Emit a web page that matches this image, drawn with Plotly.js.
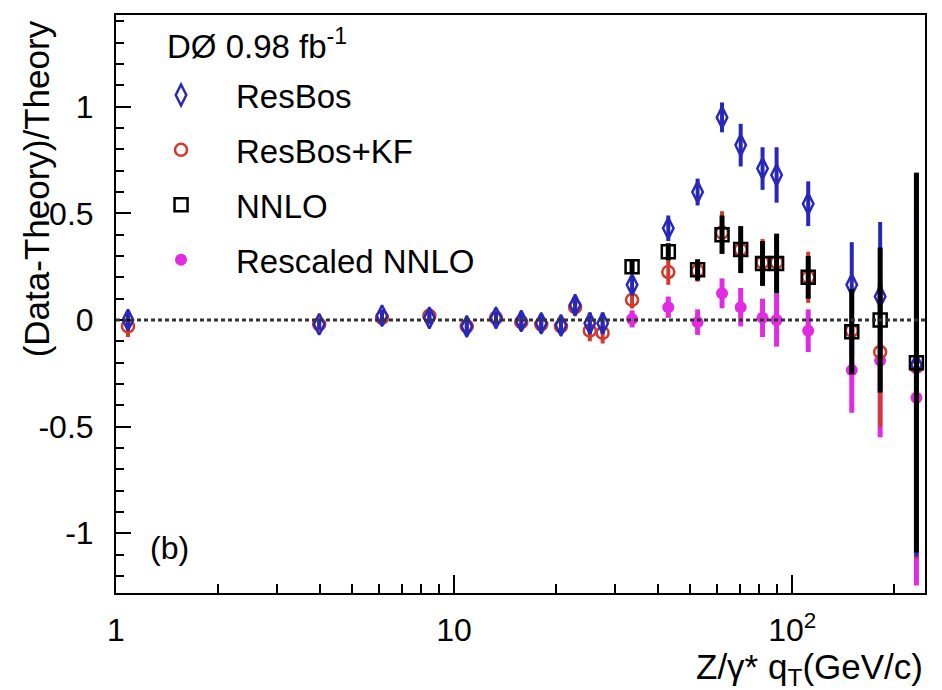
<!DOCTYPE html>
<html>
<head>
<meta charset="utf-8">
<script src="https://cdn.plot.ly/plotly-3.0.1.min.js"></script>
<style>html,body{margin:0;padding:0;background:#fff;}</style>
</head>
<body>
<div id="chart" style="width:942px;height:690px;"></div>
<script>
// Bin centres (GeV/c)
var qt = [1.085, 3.99, 6.12, 8.45, 10.9, 13.3, 15.8, 18.1, 20.7, 22.8, 25.2, 27.5, 33.6, 43.0, 52.5, 62.0, 70.4, 81.7, 89.9, 111.5, 150, 182, 233];
var qtHigh = [33.6, 43.0, 52.5, 62.0, 70.4, 81.7, 89.9, 111.5, 150, 182, 233];

var resbos    = [0.0, -0.02, 0.02, 0.01, -0.03, 0.01, -0.005, -0.015, -0.025, 0.07, -0.015, -0.015, 0.165, 0.43, 0.60, 0.95, 0.82, 0.71, 0.68, 0.545, 0.165, 0.11, -0.21];
var resbosErr = [0.045, 0.025, 0.03, 0.03, 0.035, 0.03, 0.04, 0.04, 0.04, 0.04, 0.05, 0.05, 0.04, 0.06, 0.063, 0.07, 0.1, 0.1, 0.13, 0.105, 0.2, 0.35, 0.9];

var resbosKF    = [-0.03, -0.02, 0.01, 0.02, -0.03, 0.01, -0.01, -0.02, -0.03, 0.06, -0.05, -0.06, 0.094, 0.225, 0.23, 0.41, 0.33, 0.27, 0.27, 0.2, -0.05, -0.15, -0.22];
var resbosKFErr = [0.05, 0.03, 0.03, 0.03, 0.035, 0.03, 0.04, 0.04, 0.04, 0.04, 0.05, 0.05, 0.04, 0.06, 0.05, 0.1, 0.11, 0.11, 0.13, 0.12, 0.2, 0.35, 0.9];

var nnlo    = [0.25, 0.32, 0.235, 0.40, 0.33, 0.265, 0.265, 0.20, -0.055, 0.0, -0.2];
var nnloErr = [0.03, 0.04, 0.05, 0.09, 0.11, 0.105, 0.14, 0.1, 0.2, 0.34, 0.89];

var rescaled    = [0.005, 0.06, -0.01, 0.125, 0.06, 0.01, 0.0, -0.05, -0.235, -0.19, -0.365];
var rescaledErr = [0.04, 0.05, 0.06, 0.07, 0.09, 0.09, 0.125, 0.1, 0.2, 0.36, 0.88];

var yTickVals = [-1, -0.5, 0, 0.5, 1];
var yTickText = ['-1', '-0.5', '0', '0.5', '1'];
var xTickVals = [1, 10, 100];
var xTickText = ['1', '10', '10<sup>2</sup>'];
var xMinorVals = [2,3,4,5,6,7,8,9,20,30,40,50,60,70,80,90,200];

var FONT = 'Liberation Sans, Arial, Helvetica, sans-serif';
var BLUE = '#2828b8', RED = '#d23a2e', BLACK = '#000000', MAG = '#e22ae2';

function errs(arr, color, th) {
  return {type: 'data', array: arr, visible: true, color: color, thickness: th, width: 0};
}

var traces = [
  {x: qtHigh, y: rescaled, name: 'Rescaled NNLO', mode: 'markers', type: 'scatter',
   legendrank: 4, legendgroup: 'd',
   marker: {symbol: 'circle', size: 12, color: MAG},
   error_y: errs(rescaledErr, MAG, 5)},
  {x: qt, y: resbosKF, name: 'ResBos+KF', mode: 'markers', type: 'scatter',
   legendrank: 2, legendgroup: 'b',
   marker: {symbol: 'circle-open', size: 12, color: RED, line: {width: 2.5}},
   error_y: errs(resbosKFErr, RED, 4)},
  {x: qt, y: resbos, name: 'ResBos', mode: 'markers', type: 'scatter',
   legendrank: 1, legendgroup: 'a',
   marker: {symbol: 'diamond-tall-open', size: 15, color: BLUE, line: {width: 2.5}},
   error_y: errs(resbosErr, BLUE, 4)},
  {x: qtHigh, y: nnlo, name: 'NNLO', mode: 'markers', type: 'scatter',
   legendrank: 3, legendgroup: 'c',
   marker: {symbol: 'square-open', size: 13, color: BLACK, line: {width: 2.5}},
   error_y: errs(nnloErr, BLACK, 5)}
];

var layout = {
  width: 942, height: 690,
  margin: {l: 116, r: 17, t: 15, b: 97},
  paper_bgcolor: '#fff', plot_bgcolor: '#fff',
  font: {family: FONT, size: 32, color: '#000'},
  showlegend: true,
  legend: {x: 0.0124, y: 0.91, xanchor: 'left', yanchor: 'top', bgcolor: 'rgba(0,0,0,0)',
           font: {family: FONT, size: 33, color: '#000'}, tracegroupgap: 9, itemwidth: 100},
  xaxis: {
    type: 'log', range: [0, Math.log10(247)],
    tickmode: 'array', tickvals: xTickVals, ticktext: xTickText,
    ticks: 'inside', ticklen: 18, tickwidth: 2, tickcolor: '#000',
    minor: {tickmode: 'array', tickvals: xMinorVals, ticks: 'inside', ticklen: 9, tickwidth: 2, tickcolor: '#000', showgrid: false},
    showline: true, linewidth: 2, linecolor: '#000', mirror: true,
    showgrid: false, zeroline: false,
    tickfont: {family: FONT, size: 32, color: '#000'},
    ticklabelstandoff: 8
  },
  yaxis: {
    range: [-1.28, 1.43],
    tickmode: 'array', tickvals: yTickVals, ticktext: yTickText,
    ticks: 'inside', ticklen: 15, tickwidth: 2, tickcolor: '#000',
    minor: {dtick: 0.1, ticks: 'inside', ticklen: 8, tickwidth: 2, tickcolor: '#000', showgrid: false},
    showline: true, linewidth: 2, linecolor: '#000', mirror: true,
    showgrid: false, zeroline: false,
    tickfont: {family: FONT, size: 32, color: '#000'},
    ticklabelstandoff: 14
  },
  shapes: [
    {type: 'line', xref: 'paper', x0: 0, x1: 1, yref: 'y', y0: 0, y1: 0,
     line: {color: '#333', width: 3, dash: '4px,3px'}}
  ],
  annotations: [
    {text: 'DØ 0.98 fb<sup>-1</sup>', xref: 'paper', yref: 'paper', x: 0.06, y: 0.95,
     xanchor: 'left', yanchor: 'middle', showarrow: false, font: {family: FONT, size: 33}},
    {text: '(b)', xref: 'paper', yref: 'paper', x: 0.04, y: 0.078,
     xanchor: 'left', yanchor: 'middle', showarrow: false, font: {family: FONT, size: 32}},
    {text: 'Z/γ* q<sub>T</sub>(GeV/c)', xref: 'paper', yref: 'paper', x: 1.0, y: -0.132,
     xanchor: 'right', yanchor: 'middle', showarrow: false, font: {family: FONT, size: 35}},
    {text: '(Data-Theory)/Theory', xref: 'paper', yref: 'paper', x: -0.099, y: 0.70,
     xanchor: 'center', yanchor: 'middle', textangle: -90, showarrow: false, font: {family: FONT, size: 35}}
  ]
};

Plotly.newPlot('chart', traces, layout, {displayModeBar: false, staticPlot: true});
</script>
</body>
</html>
